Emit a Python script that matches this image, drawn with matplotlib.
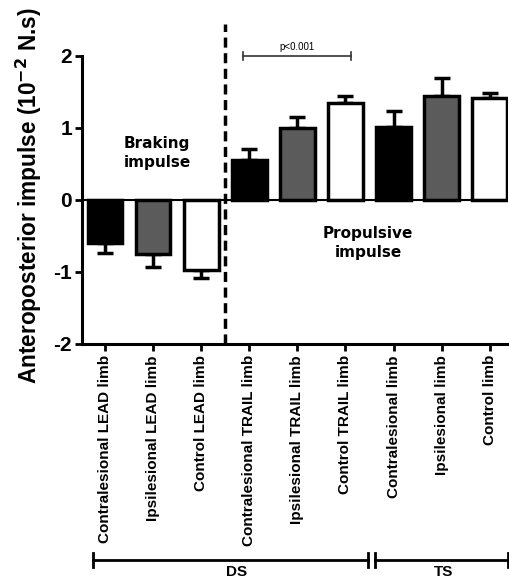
# Anteroposterior impulse bar chart (DS / TS phases)
import matplotlib
matplotlib.use('Agg')
import matplotlib.pyplot as plt
import matplotlib.transforms as mtransforms

plt.rcParams['font.family'] = ['Liberation Sans', 'DejaVu Sans']
plt.rcParams['font.weight'] = 'bold'

# Data (10^-2 N.s)
labels = ['Contralesional LEAD limb', 'Ipsilesional LEAD limb', 'Control LEAD limb',
          'Contralesional TRAIL limb', 'Ipsilesional TRAIL limb', 'Control TRAIL limb',
          'Contralesional limb', 'Ipsilesional limb', 'Control limb']
means = [-0.60, -0.75, -0.97, 0.55, 1.00, 1.35, 1.01, 1.45, 1.41]
errors = [0.14, 0.18, 0.11, 0.16, 0.15, 0.09, 0.23, 0.25, 0.07]
colors = ['black', '#5b5b5b', 'white'] * 3
yticks = [-2, -1, 0, 1, 2]

fig = plt.figure(figsize=(5.09, 5.88), dpi=100)
ax = fig.add_axes([0.161, 0.415, 0.837, 0.545])

x = list(range(len(means)))
ax.bar(x, means, width=0.72, color=colors, edgecolor='black', linewidth=2.5, zorder=3)

# error bars only on the outward side
lower = [e if m < 0 else 0 for m, e in zip(means, errors)]
upper = [e if m >= 0 else 0 for m, e in zip(means, errors)]
ax.errorbar(x, means, yerr=[lower, upper], fmt='none', ecolor='black',
            elinewidth=2.5, capsize=6, capthick=2.5, zorder=2)

ax.axhline(0, color='black', linewidth=1.5, zorder=4)
ax.axvline(2.5, ymin=0, ymax=1, color='black', linewidth=2.5, linestyle=(0, (2.9, 1.6)), zorder=5)

ax.set_xlim(-0.48, 8.38)
ax.set_ylim(-2, 2.45)
ax.set_yticks(yticks)
ax.set_yticklabels([str(t) for t in yticks], fontsize=15, fontweight='bold')
ax.set_xticks(x)
ax.set_xticklabels(labels, rotation=90, fontsize=11, fontweight='bold')
ax.tick_params(axis='both', direction='out', length=5, width=2)
ax.tick_params(axis='y', pad=2)
ax.tick_params(axis='x', pad=3)

for s in ['top', 'right']:
    ax.spines[s].set_visible(False)
ax.spines['left'].set_linewidth(2.2)
ax.spines['bottom'].set_linewidth(2.2)
ax.spines['left'].set_bounds(-2, 2)

fig.text(29 / 509, 1 - 196 / 588, 'Anteroposterior impulse (10$^{\\mathbf{-2}}$ N.s)', rotation=90,
         fontsize=16.3, fontweight='bold', ha='center', va='center')

# annotations
ax.text(1.08, 0.65, 'Braking\nimpulse', ha='center', va='center', fontsize=11,
        fontweight='bold', family='DejaVu Sans', linespacing=1.3)
ax.text(5.47, -0.6, 'Propulsive\nimpulse', ha='center', va='center', fontsize=11,
        fontweight='bold', family='DejaVu Sans', linespacing=1.3)

# significance bracket
ax.plot([2.87, 5.11], [2.0, 2.0], color='#333333', linewidth=1.2)
ax.plot([2.87, 2.87], [1.94, 2.06], color='#333333', linewidth=1.2)
ax.plot([5.11, 5.11], [1.94, 2.06], color='#333333', linewidth=1.2)
ax.text(3.99, 2.05, 'p<0.001', ha='center', va='bottom', fontsize=7, fontweight='normal')

# phase brackets below the axis
tr = mtransforms.blended_transform_factory(ax.transData, ax.transAxes)
yb = -0.674
for x0, x1, name, xt in [(-0.25, 5.47, 'DS', 2.74), (5.61, 8.38, 'TS', 7.03)]:
    ax.plot([x0, x1], [yb, yb], color='black', linewidth=2, transform=tr, clip_on=False)
    ax.plot([x0, x0], [yb - 0.022, yb + 0.022], color='black', linewidth=2, transform=tr, clip_on=False)
    ax.plot([x1, x1], [yb - 0.022, yb + 0.022], color='black', linewidth=2, transform=tr, clip_on=False)
    ax.text(xt, yb - 0.038, name, transform=tr,
            ha='center', va='center', fontsize=11, fontweight='bold')

fig.savefig('out.png', dpi=100)
